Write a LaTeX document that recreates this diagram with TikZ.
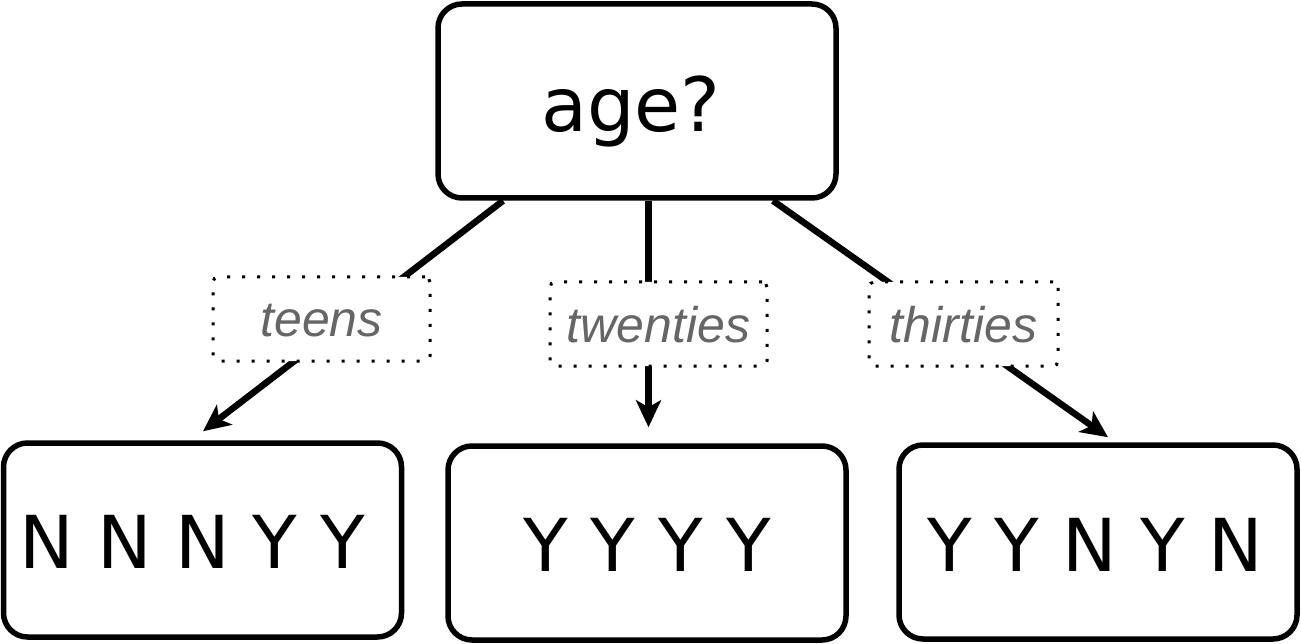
\documentclass[tikz,border=0pt]{standalone}
\usepackage{fontspec}
\setmainfont{DejaVu Sans}
\newfontfamily\labfont{Liberation Sans}
\usetikzlibrary{arrows.meta}
\definecolor{labgray}{HTML}{666666}
\tikzset{
  box/.style={draw=black, line width=5.5pt, rounded corners=24pt, fill=white, inner sep=0pt},
  rootbox/.style={box, minimum width=398pt, minimum height=194pt, font=\fontsize{75}{90}\selectfont},
  leafbox/.style={box, minimum width=398pt, minimum height=194pt, font=\fontsize{73}{84}\selectfont},
  edgelab/.style={draw=black, line width=3pt, dash pattern=on 3pt off 12pt, rounded corners=5pt, fill=white,
    inner sep=0pt, minimum height=84pt, text=labgray, font=\labfont\itshape\fontsize{50}{60}\selectfont},
  conn/.style={line width=6.5pt, -{Stealth[length=27pt, width=25pt, inset=7pt]}}
}
\newcommand{\lowered}[2]{\raisebox{-#1}[0pt][0pt]{#2}}
\begin{document}
\begin{tikzpicture}[x=1pt,y=-1pt]
\useasboundingbox (0,0) rectangle (1301,644);
\node[rootbox] (root) at (637,101) {\lowered{31pt}{age?}\hspace*{12pt}};
\node[leafbox] (l1) at (202.5,540) {\lowered{28pt}{N N N Y Y}\hspace*{20pt}};
\node[leafbox] (l2) at (647,543) {\lowered{28pt}{Y Y Y Y}};
\node[leafbox] (l3) at (1098,542) {\lowered{29pt}{Y Y N Y N}\hspace*{6pt}};
\coordinate (s1) at ([xshift=-134pt]root.south);
\coordinate (s2) at ([xshift=11.5pt]root.south);
\coordinate (s3) at ([xshift=136pt]root.south);
\coordinate (e1) at ([xshift=0.5pt,yshift=9pt]l1.north);
\coordinate (e2) at ([xshift=1.5pt,yshift=16pt]l2.north);
\coordinate (e3) at ([xshift=10pt,yshift=5pt]l3.north);
\draw[conn] (s1) -- (e1);
\draw[conn] (s2) -- (e2);
\draw[conn] (s3) -- (e3);
\node[edgelab, minimum width=217pt] (t1) at (321.5,319) {\lowered{18pt}{teens}};
\node[edgelab, minimum width=217pt] (t2) at (658.5,324) {\lowered{18pt}{twenties}};
\node[edgelab, minimum width=189pt] (t3) at (963.5,324) {\lowered{18pt}{thirties}};
\end{tikzpicture}
\end{document}
